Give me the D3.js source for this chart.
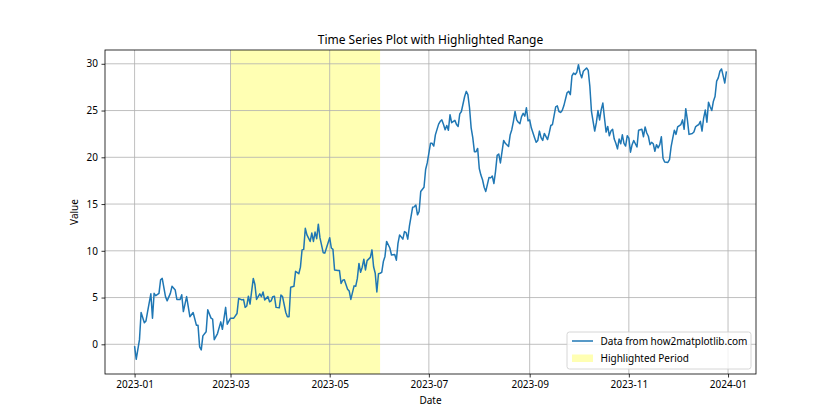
<!DOCTYPE html>
<html>
<head>
<meta charset="utf-8">
<script src="https://cdn.jsdelivr.net/npm/d3@7"></script>
<style>
  body { margin: 0; background: #fff; }
  svg { font-family: "Noto Sans", "DejaVu Sans", sans-serif; }
</style>
</head>
<body>
<div id="chart"></div>
<script>
// days after 2023-01-01
var days = [0,1,3,4,6,7,8,10,11,12,13,15,16,17,19,20,22,23,25,26,28,29,30,32,34,36,38,39,40,41,42,44,45,47,48,49,51,53,54,56,57,59,61,63,64,66,67,68,69,70,71,73,74,75,77,78,79,80,82,83,84,85,86,87,89,90,91,93,94,95,96,98,99,101,102,103,104,105,106,108,109,110,111,112,113,114,116,117,118,120,121,122,123,125,126,127,128,129,131,132,133,135,136,137,138,139,140,141,142,143,145,146,147,148,149,150,151,152,153,154,155,157,158,160,161,162,163,165,166,167,168,169,171,172,173,174,175,176,178,179,180,182,183,184,185,187,188,189,190,191,192,193,194,195,197,198,199,200,201,203,204,205,206,207,208,209,210,211,212,213,214,215,216,218,219,220,221,222,223,224,225,227,228,230,231,232,233,234,235,236,237,238,239,240,241,242,243,244,246,247,248,249,250,251,252,254,255,256,257,259,260,261,262,263,264,266,267,268,269,270,271,272,273,274,275,276,278,279,280,281,282,283,284,285,286,287,288,289,290,291,292,293,294,295,296,297,298,299,300,301,302,303,304,305,306,307,309,310,311,312,313,314,315,316,317,318,319,320,321,322,323,324,325,326,328,329,330,331,332,333,334,336,337,338,339,340,341,343,344,345,346,347,348,349,350,351,352,353,354,355,356,357,358,359,360,361,362,363,364];
var values = [-0.2,-1.6,0.5,3.4,2.3,2.5,3.5,5.4,2.8,5.45,5.2,5.45,6.9,7.05,5.1,4.65,5.45,6.2,5.8,4.8,4.8,5.3,3.5,5.1,2.95,3.4,2.05,2.05,-0.27,-0.6,0.9,1.35,3.7,2.8,2.7,0.5,1.15,2.4,1.6,3.95,2.15,2.8,2.8,3.3,4.9,4.75,4.8,3.95,4.1,5.15,4.3,7.05,6.4,4.8,5.4,5.1,5.6,4.75,5.1,4.55,4.65,5.1,5.15,3.95,3.9,5.27,5.1,3.4,2.95,2.95,6.1,6.2,7.8,7.55,8.25,10.1,10.15,12.4,11.7,11.0,11.9,11.0,12.0,11.3,12.85,11.4,9.8,9.75,10.3,11.4,10.3,10.15,7.95,7.9,7.9,6.5,6.85,6.9,5.9,5.7,4.8,6.25,6.2,7.05,8.65,7.7,8.25,9.1,7.95,8.95,9.3,10.1,8.3,7.6,5.6,7.55,7.6,7.7,8.85,9.4,11.0,10.3,9.55,9.6,9.0,10.8,11.7,11.25,12.05,11.95,11.25,12.6,14.65,14.7,14.9,13.85,14.2,16.35,16.8,18.7,19.4,21.5,21.5,21.2,22.4,23.55,23.85,24.0,23.5,22.95,23.4,22.9,24.55,23.7,23.95,23.5,23.3,24.65,24.9,26.5,27.05,26.7,25.3,23.15,22.1,20.6,20.6,20.95,18.8,18.1,17.6,16.8,16.35,17.85,17.8,18.0,17.2,18.5,20.2,20.35,19.4,21.8,21.5,21.15,22.4,22.95,23.85,24.9,24.0,23.75,23.6,24.35,24.7,24.4,25.3,23.9,24.0,23.15,22.1,21.6,21.8,22.8,22.1,21.8,22.55,21.9,22.6,23.4,23.5,25.4,25.5,24.9,24.8,25.0,25.5,26.9,27.05,26.7,28.7,29.0,28.85,29.1,29.9,29.0,28.5,29.2,29.55,29.3,27.6,24.9,23.85,22.8,23.7,25.0,24.0,25.1,25.8,24.2,22.7,23.3,22.3,22.8,23.0,21.95,21.5,20.9,21.95,21.45,22.4,21.5,21.2,22.3,22.05,20.55,21.35,21.8,21.1,22.9,22.95,23.0,22.2,23.25,22.6,22.25,21.35,21.6,21.45,20.65,21.35,21.0,21.35,22.2,19.9,19.5,19.45,19.75,21.15,22.05,22.9,22.45,23.25,23.5,24.0,23.0,25.2,24.0,22.45,22.55,22.7,23.25,23.4,23.5,23.85,22.8,24.2,25.05,23.75,25.9,25.4,25.0,26.0,26.5,28.15,28.5,29.2,29.45,28.7,27.95,29.2];
var highlightStart = "2023-03-01";
var highlightEnd = "2023-06-01";
var yTicks = [0, 5, 10, 15, 20, 25, 30];
var titleText = "Time Series Plot with Highlighted Range";
var lineLabel = "Data from how2matplotlib.com";
var spanLabel = "Highlighted Period";

var width = 840, height = 420;
var margin = {top: 50, right: 84, bottom: 46, left: 105};
var parse = d3.timeParse("%Y-%m-%d");
var start = parse("2023-01-01");

var data = days.map(function(d, i) {
    return {date: d3.timeDay.offset(start, d), value: values[i]};
});

var svg = d3.select("#chart").append("svg")
    .attr("width", width)
    .attr("height", height);

// matplotlib-style 5% padding on both axes
var xExt = d3.extent(data, function(d) { return d.date; });
var xPad = (xExt[1] - xExt[0]) * 0.05;
var x = d3.scaleTime()
    .domain([new Date(+xExt[0] - xPad), new Date(+xExt[1] + xPad)])
    .range([margin.left, width - margin.right]);

var yExt = d3.extent(values);
var yPad = (yExt[1] - yExt[0]) * 0.05;
var y = d3.scaleLinear()
    .domain([yExt[0] - yPad, yExt[1] + yPad])
    .range([height - margin.bottom, margin.top]);

var x0 = margin.left, x1 = width - margin.right;
var y0 = margin.top, y1 = height - margin.bottom;

// highlighted span
svg.append("rect")
    .attr("x", x(parse(highlightStart)))
    .attr("y", y0)
    .attr("width", x(parse(highlightEnd)) - x(parse(highlightStart)))
    .attr("height", y1 - y0)
    .attr("fill", "#ffffb3");

var xTickVals = x.ticks(d3.timeMonth.every(2));

// grid
var grid = svg.append("g").attr("stroke", "#b0b0b0").attr("stroke-width", 0.8);
grid.selectAll(".gx").data(xTickVals).enter().append("line")
    .attr("x1", function(d) { return x(d); })
    .attr("x2", function(d) { return x(d); })
    .attr("y1", y0).attr("y2", y1);
grid.selectAll(".gy").data(yTicks).enter().append("line")
    .attr("x1", x0).attr("x2", x1)
    .attr("y1", function(d) { return y(d); })
    .attr("y2", function(d) { return y(d); });

// series
var line = d3.line()
    .x(function(d) { return x(d.date); })
    .y(function(d) { return y(d.value); });
svg.append("path")
    .datum(data)
    .attr("fill", "none")
    .attr("stroke", "#1f77b4")
    .attr("stroke-width", 1.5)
    .attr("stroke-linejoin", "round")
    .attr("d", line);

// axes
var xAxis = svg.append("g")
    .attr("transform", "translate(0," + y1 + ")")
    .call(d3.axisBottom(x).tickValues(xTickVals).tickFormat(d3.timeFormat("%Y-%m")).tickSize(3.5).tickPadding(3.5));
var yAxis = svg.append("g")
    .attr("transform", "translate(" + x0 + ",0)")
    .call(d3.axisLeft(y).tickValues(yTicks).tickSize(3.5).tickPadding(3.5));
[xAxis, yAxis].forEach(function(a) {
    a.select(".domain").remove();
    a.selectAll("line").attr("stroke", "#000").attr("stroke-width", 0.8);
    a.selectAll("text").attr("fill", "#000").attr("font-size", "10px");
    a.attr("font-family", null);
});

svg.append("rect")
    .attr("x", x0).attr("y", y0)
    .attr("width", x1 - x0).attr("height", y1 - y0)
    .attr("fill", "none")
    .attr("stroke", "#000")
    .attr("stroke-width", 0.8);

// labels
svg.append("text")
    .attr("x", (x0 + x1) / 2).attr("y", y0 - 6)
    .attr("text-anchor", "middle")
    .attr("font-size", "12px")
    .text(titleText);
svg.append("text")
    .attr("x", (x0 + x1) / 2).attr("y", 404)
    .attr("text-anchor", "middle")
    .attr("font-size", "10px")
    .text("Date");
svg.append("text")
    .attr("transform", "translate(78," + ((y0 + y1) / 2) + ") rotate(-90)")
    .attr("text-anchor", "middle")
    .attr("font-size", "10px")
    .text("Value");

// legend
var lg = svg.append("g").attr("transform", "translate(" + (x1 - 189) + "," + (y1 - 42) + ")");
lg.append("rect")
    .attr("width", 184).attr("height", 37).attr("rx", 2.5)
    .attr("fill", "#fff").attr("fill-opacity", 0.8)
    .attr("stroke", "#cccccc").attr("stroke-width", 0.8);
lg.append("line")
    .attr("x1", 5).attr("x2", 26).attr("y1", 9).attr("y2", 9)
    .attr("stroke", "#1f77b4").attr("stroke-width", 1.5);
lg.append("text")
    .attr("x", 33.5).attr("y", 12.5)
    .attr("font-size", "10px")
    .text(lineLabel);
lg.append("rect")
    .attr("x", 5).attr("y", 22.5).attr("width", 21).attr("height", 7.5)
    .attr("fill", "#ffffb3");
lg.append("text")
    .attr("x", 33.5).attr("y", 29.5)
    .attr("font-size", "10px")
    .text(spanLabel);
</script>
</body>
</html>
